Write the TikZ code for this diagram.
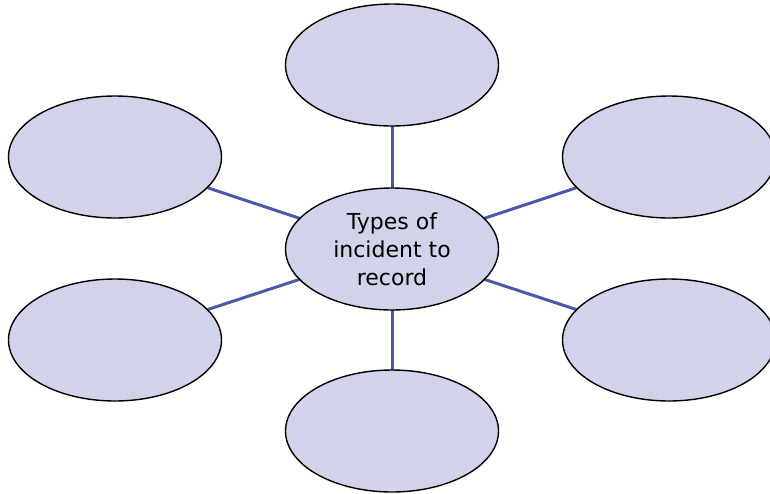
\documentclass[tikz,border=0pt]{standalone}
\usepackage{fontspec}
\setmainfont{DejaVu Sans}
\usetikzlibrary{shapes.geometric,backgrounds}
\definecolor{bubble}{HTML}{D0D3EA}
\definecolor{spoke}{HTML}{4F57A8}
\tikzset{
  bubble/.style={ellipse, draw=black, line width=1.4pt, fill=bubble,
    minimum width=213pt, minimum height=122pt, inner sep=0pt,
    align=center, font=\fontsize{22}{28}\selectfont},
  spoke/.style={draw=spoke, line width=3pt}
}
\begin{document}
\begin{tikzpicture}[x=1pt, y=-1pt]
  \clip (0,0) rectangle (770,493);
  \useasboundingbox (0,0) rectangle (770,493);
  % hub and the six surrounding bubbles
  \node[bubble] (hub) at (392,249) {Types of\\incident to\\record};
  \node[bubble] (top) at (392,65) {};
  \node[bubble] (bot) at (392,431) {};
  \node[bubble] (lt) at (115,157) {};
  \node[bubble] (lb) at (115,340) {};
  \node[bubble] (rt) at (669,157) {};
  \node[bubble] (rb) at (669,340) {};
  % spokes behind the bubbles
  \begin{scope}[on background layer]
    \fill[white] (0,0) rectangle (770,493);
    \foreach \n in {top,bot,lt,lb,rt,rb}
      \draw[spoke] (hub.center) -- (\n.center);
  \end{scope}
\end{tikzpicture}
\end{document}
